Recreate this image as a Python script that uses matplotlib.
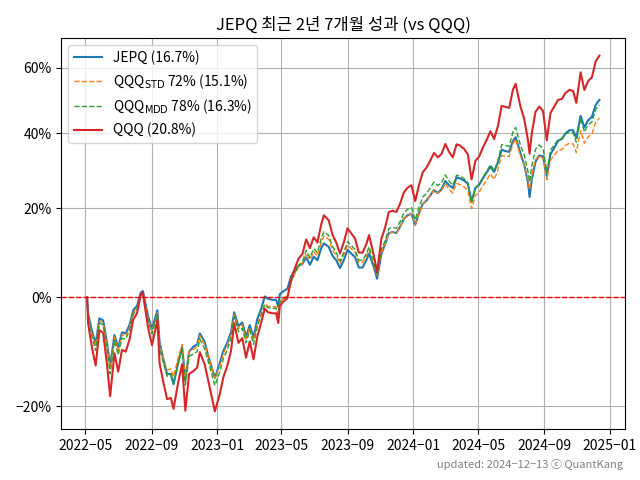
import matplotlib
matplotlib.use("Agg")
import matplotlib.pyplot as plt
import matplotlib.dates as mdates
import matplotlib.ticker as mticker
import pandas as pd

plt.rcParams['font.family'] = ['Noto Sans CJK KR', 'DejaVu Sans']
plt.rcParams['mathtext.fontset'] = 'dejavusans'
plt.rcParams['axes.unicode_minus'] = False

# weekly closes, cumulative return in %
dates = [
    "2022-05-04", "2022-05-06", "2022-05-13", "2022-05-20", "2022-05-27", "2022-06-03", "2022-06-10", "2022-06-16", "2022-06-24", "2022-07-01",
    "2022-07-08", "2022-07-15", "2022-07-22", "2022-07-29", "2022-08-05", "2022-08-12", "2022-08-16", "2022-08-19", "2022-08-26", "2022-09-02",
    "2022-09-12", "2022-09-16", "2022-09-23", "2022-09-30", "2022-10-07", "2022-10-12", "2022-10-21", "2022-10-28", "2022-11-03", "2022-11-10",
    "2022-11-18", "2022-11-25", "2022-11-30", "2022-12-09", "2022-12-16", "2022-12-28", "2023-01-06", "2023-01-13", "2023-01-20", "2023-01-27",
    "2023-02-02", "2023-02-10", "2023-02-17", "2023-02-24", "2023-03-03", "2023-03-10", "2023-03-17", "2023-03-24", "2023-03-31", "2023-04-06",
    "2023-04-14", "2023-04-21", "2023-04-25", "2023-04-28", "2023-05-05", "2023-05-12", "2023-05-19", "2023-05-26", "2023-06-02", "2023-06-09",
    "2023-06-16", "2023-06-23", "2023-06-30", "2023-07-07", "2023-07-14", "2023-07-19", "2023-07-28", "2023-08-04", "2023-08-11", "2023-08-18",
    "2023-08-25", "2023-09-01", "2023-09-08", "2023-09-15", "2023-09-22", "2023-09-29", "2023-10-06", "2023-10-11", "2023-10-20", "2023-10-26",
    "2023-11-03", "2023-11-10", "2023-11-17", "2023-11-24", "2023-12-01", "2023-12-08", "2023-12-15", "2023-12-22", "2023-12-29", "2024-01-05",
    "2024-01-12", "2024-01-19", "2024-01-26", "2024-02-02", "2024-02-09", "2024-02-16", "2024-02-23", "2024-03-01", "2024-03-08", "2024-03-15",
    "2024-03-22", "2024-03-28", "2024-04-05", "2024-04-12", "2024-04-19", "2024-04-26", "2024-05-03", "2024-05-10", "2024-05-17", "2024-05-24",
    "2024-05-31", "2024-06-07", "2024-06-14", "2024-06-21", "2024-06-28", "2024-07-05", "2024-07-10", "2024-07-19", "2024-07-26", "2024-08-02",
    "2024-08-05", "2024-08-09", "2024-08-16", "2024-08-23", "2024-08-30", "2024-09-06", "2024-09-13", "2024-09-20", "2024-09-27", "2024-10-04",
    "2024-10-11", "2024-10-18", "2024-10-25", "2024-10-31", "2024-11-08", "2024-11-15", "2024-11-22", "2024-11-29", "2024-12-06", "2024-12-13",
]

jepq = [
    0.0, -3.3, -6.6, -9.1, -4.2, -4.6, -8.8, -13.1, -7.4, -9.8,
    -6.9, -7.1, -5.5, -2.6, -1.7, 1.0, 1.3, -0.4, -3.9, -6.2,
    -2.6, -8.7, -11.9, -14.5, -14.5, -16.3, -12.4, -9.7, -15.6, -10.5,
    -9.6, -9.2, -7.1, -8.7, -11.4, -15.2, -12.6, -10.3, -8.9, -6.9,
    -3.0, -5.7, -5.0, -7.7, -5.5, -7.9, -4.3, -2.4, 0.2, -0.3,
    -0.5, -0.5, -1.9, 0.7, 1.3, 1.8, 4.4, 5.7, 6.7, 7.1,
    8.5, 6.9, 8.7, 7.9, 10.6, 11.7, 10.9, 8.9, 7.9, 6.2,
    7.9, 10.2, 9.4, 8.6, 6.3, 6.3, 7.9, 9.4, 6.4, 3.9,
    9.3, 11.5, 14.1, 14.3, 14.1, 15.6, 17.5, 18.3, 18.7, 16.0,
    18.8, 21.1, 21.9, 23.2, 24.6, 23.8, 24.8, 26.9, 25.8, 25.1,
    27.8, 27.6, 27.0, 26.2, 21.7, 25.1, 25.9, 27.6, 29.1, 30.7,
    29.3, 31.8, 35.3, 34.9, 34.7, 37.7, 38.8, 34.3, 31.2, 26.5,
    22.8, 27.2, 32.0, 33.7, 33.5, 28.2, 34.1, 35.8, 37.8, 38.3,
    39.9, 40.8, 40.8, 38.6, 45.0, 41.6, 43.7, 44.7, 48.3, 49.8,
]

qqq_std = [
    0.0, -3.8, -7.1, -9.5, -4.7, -5.1, -9.3, -13.5, -7.8, -10.3,
    -7.4, -7.6, -6.0, -3.1, -2.2, 0.5, 0.8, -0.9, -4.4, -6.7,
    -3.1, -9.1, -11.6, -13.8, -13.6, -15.0, -11.5, -9.2, -15.2, -10.5,
    -10.1, -9.6, -7.5, -9.2, -11.4, -15.2, -13.1, -10.8, -9.4, -7.3,
    -3.5, -6.2, -5.5, -8.2, -6.0, -8.4, -5.3, -3.4, -1.3, -1.8,
    -1.9, -1.9, -3.3, -0.8, -0.2, 0.3, 3.2, 4.9, 6.4, 7.1,
    9.4, 8.0, 9.8, 8.9, 11.9, 13.4, 12.6, 10.2, 9.0, 7.2,
    9.0, 11.3, 10.5, 9.7, 7.4, 7.4, 8.8, 10.2, 7.0, 4.4,
    9.6, 11.5, 14.1, 14.3, 14.1, 15.6, 17.5, 18.3, 18.7, 16.0,
    18.8, 21.1, 21.9, 23.2, 24.6, 23.8, 24.4, 26.3, 24.8, 23.8,
    26.3, 26.0, 25.4, 24.4, 19.9, 23.2, 24.0, 25.7, 27.1, 28.8,
    27.3, 29.8, 33.7, 33.5, 33.4, 37.0, 38.2, 33.6, 31.2, 27.2,
    24.7, 28.4, 32.6, 33.7, 32.9, 27.2, 32.5, 33.7, 35.1, 35.3,
    36.5, 37.1, 36.9, 34.5, 40.7, 37.1, 38.9, 39.7, 43.1, 44.3,
]

qqq_mdd = [
    0.0, -4.1, -7.7, -10.3, -5.1, -5.5, -10.0, -14.5, -8.5, -11.1,
    -8.0, -8.2, -6.5, -3.4, -2.4, 0.5, 0.9, -1.0, -4.8, -7.2,
    -3.4, -9.9, -12.5, -14.9, -14.7, -16.2, -12.4, -10.0, -16.4, -11.4,
    -10.9, -10.5, -8.2, -10.0, -12.4, -16.5, -14.2, -11.7, -10.2, -8.0,
    -3.9, -6.8, -6.1, -8.9, -6.5, -9.2, -5.8, -3.7, -1.5, -2.1,
    -2.2, -2.2, -3.7, -1.0, -0.3, 0.2, 3.3, 5.2, 6.8, 7.5,
    10.1, 8.5, 10.5, 9.6, 12.8, 14.4, 13.5, 11.0, 9.6, 7.7,
    9.6, 12.1, 11.2, 10.3, 7.9, 7.9, 9.3, 10.9, 7.4, 4.6,
    10.3, 12.3, 15.1, 15.4, 15.2, 16.8, 18.9, 19.8, 20.2, 17.2,
    20.2, 22.8, 23.7, 25.1, 26.6, 25.7, 26.4, 28.5, 26.9, 25.8,
    28.4, 28.2, 27.5, 26.4, 21.4, 25.1, 26.0, 27.8, 29.4, 31.2,
    29.6, 32.3, 36.7, 36.5, 36.2, 40.3, 41.6, 36.5, 33.9, 29.4,
    26.7, 30.8, 35.4, 36.6, 35.7, 29.4, 35.2, 36.6, 38.1, 38.3,
    39.7, 40.3, 40.1, 37.4, 44.3, 40.3, 42.4, 43.2, 46.9, 48.3,
]

qqq = [
    0.0, -5.2, -9.7, -13.0, -6.5, -7.0, -12.7, -18.3, -10.8, -14.1,
    -10.2, -10.5, -8.3, -4.4, -3.2, 0.5, 1.0, -1.4, -6.2, -9.3,
    -4.5, -12.6, -15.9, -18.8, -18.6, -20.4, -15.8, -12.8, -20.7, -14.5,
    -14.0, -13.4, -10.6, -12.8, -15.8, -20.8, -18.0, -15.0, -13.1, -10.4,
    -5.2, -8.9, -8.0, -11.6, -8.6, -11.9, -7.7, -5.1, -2.3, -3.0,
    -3.2, -3.2, -5.1, -1.7, -0.8, -0.2, 3.8, 6.2, 8.3, 9.3,
    12.6, 10.6, 13.1, 11.9, 16.1, 18.3, 17.1, 13.7, 11.9, 9.4,
    11.9, 15.2, 14.0, 12.8, 9.6, 9.6, 11.5, 13.6, 9.0, 5.3,
    12.7, 15.4, 19.1, 19.4, 19.1, 21.2, 24.0, 25.2, 25.8, 21.8,
    25.8, 29.2, 30.4, 32.3, 34.4, 33.2, 34.1, 36.9, 34.7, 33.2,
    36.8, 36.5, 35.5, 34.0, 27.3, 32.2, 33.4, 35.9, 38.0, 40.5,
    38.3, 42.0, 48.0, 47.7, 47.4, 53.0, 54.8, 47.8, 44.1, 37.9,
    34.2, 39.8, 46.2, 47.8, 46.5, 37.9, 45.9, 47.8, 49.8, 50.1,
    52.0, 52.9, 52.6, 48.9, 58.5, 52.9, 55.7, 56.9, 62.1, 64.0,
]

labels = [
    "JEPQ (16.7%)",
    r"QQQ$_{\mathrm{STD}}$ 72% (15.1%)",
    r"QQQ$_{\mathrm{MDD}}$ 78% (16.3%)",
    "QQQ (20.8%)",
]
y_ticks = [-20, 0, 20, 40, 60]

df = pd.DataFrame({"jepq": jepq, "std": qqq_std, "mdd": qqq_mdd, "qqq": qqq},
                  index=pd.to_datetime(dates))
growth = 1 + df / 100

fig = plt.figure(figsize=(6.4, 4.8), dpi=100)
ax = fig.add_axes([0.096, 0.106, 0.8806, 0.815])

ax.plot(growth.index, growth["jepq"], color="tab:blue", lw=1.5, label=labels[0])
ax.plot(growth.index, growth["std"], color="tab:orange", lw=1, ls="--", label=labels[1])
ax.plot(growth.index, growth["mdd"], color="tab:green", lw=1, ls="--", label=labels[2])
ax.plot(growth.index, growth["qqq"], color="tab:red", lw=1.5, label=labels[3])
ax.axhline(1.0, color="red", ls="--", lw=1)

ax.set_yscale("log")
ax.yaxis.set_major_locator(mticker.FixedLocator([1 + v / 100 for v in y_ticks]))
ax.yaxis.set_major_formatter(mticker.FixedFormatter(
    [f"{v}%".replace("-", "\u2212") for v in y_ticks]))
ax.yaxis.set_minor_locator(mticker.NullLocator())

ax.xaxis.set_major_locator(mdates.MonthLocator(bymonth=[1, 5, 9]))
ax.xaxis.set_major_formatter(mdates.DateFormatter("%Y\u2212%m"))

ax.grid(True)
ax.set_title("JEPQ 최근 2년 7개월 성과 (vs QQQ)", fontsize=12)
ax.legend(loc="upper left", fontsize=10)

fig.text(0.973, 0.025, "updated: 2024\u221212\u221213 ⓒ QuantKang", ha="right",
         fontsize=8, color="gray")

fig.savefig("out.png", dpi=100)
